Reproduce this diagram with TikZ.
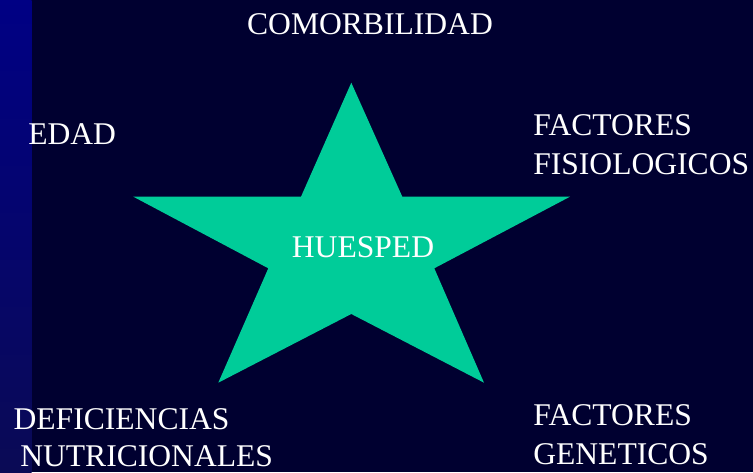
\documentclass[tikz,border=0pt]{standalone}
\usepackage{fontspec}
\setmainfont{Liberation Serif}
\definecolor{bgnavy}{HTML}{000030}
\definecolor{bartop}{HTML}{000084}
\definecolor{barbot}{HTML}{0A0A55}
\definecolor{stargreen}{HTML}{00CC99}
\begin{document}
\begin{tikzpicture}[x=0.75pt,y=0.75pt,
  lbl/.style={text=white,inner sep=0pt,font=\fontsize{23.7}{29}\selectfont}]
\useasboundingbox (0,0) rectangle (753,472);
\fill[bgnavy] (0,0) rectangle (753,472);
\shade[top color=bartop,bottom color=barbot] (0,0) rectangle (31.7,472);
% star
\fill[stargreen] (351.3,389.3) -- (402.3,275.3) -- (570,275.3) -- (434.3,203.7)
  -- (484,89.3) -- (351.3,158) -- (218.3,89.3) -- (268.3,203.7)
  -- (133.3,275.3) -- (301,275.3) -- cycle;
\node[lbl,anchor=base] (huesped) at (363,215) {HUESPED};
\node[lbl,anchor=base] (comor) at (370,437) {COMORBILIDAD};
\node[lbl,anchor=base west] (edad) at (28,327.7) {EDAD};
\node[lbl,anchor=base west] (fisA) at (533,336) {FACTORES};
\node[lbl,anchor=base west] (fisB) at (533,297) {FISIOLOGICOS};
\node[lbl,anchor=base west] (genA) at (533,47) {FACTORES};
\node[lbl,anchor=base west] (genB) at (533,8) {GENETICOS};
\node[lbl,anchor=base west] (defA) at (13.3,42.7) {DEFICIENCIAS};
\node[lbl,anchor=base west] (defB) at (20,6) {NUTRICIONALES};
\end{tikzpicture}
\end{document}
